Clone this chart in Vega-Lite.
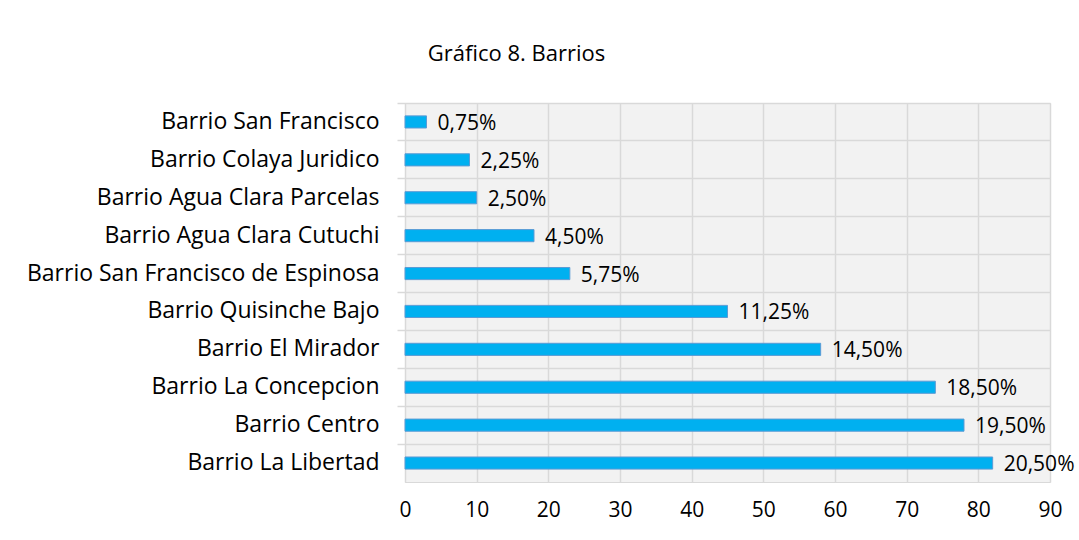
{
  "$schema": "https://vega.github.io/schema/vega-lite/v6.json",
  "autosize": "none",
  "width": 645,
  "height": 379,
  "padding": {"left": 405, "top": 103, "right": 29, "bottom": 58},
  "background": "white",
  "title": {
    "text": "Gráfico 8. Barrios",
    "anchor": "middle",
    "dx": -211,
    "offset": 19,
    "baseline": "alphabetic",
    "font": "Open Sans",
    "fontSize": 22,
    "fontWeight": "normal",
    "color": "#000000"
  },
  "config": {
    "view": {"stroke": "#d9d9d9", "fill": "#f2f2f2"},
    "font": "Open Sans"
  },
  "data": {
    "values": [
      {"barrio": "Barrio San Francisco", "n": 3, "pct": "0,75%"},
      {"barrio": "Barrio Colaya Juridico", "n": 9, "pct": "2,25%"},
      {"barrio": "Barrio Agua Clara Parcelas", "n": 10, "pct": "2,50%"},
      {"barrio": "Barrio Agua Clara Cutuchi", "n": 18, "pct": "4,50%"},
      {"barrio": "Barrio San Francisco de Espinosa", "n": 23, "pct": "5,75%"},
      {"barrio": "Barrio Quisinche Bajo", "n": 45, "pct": "11,25%"},
      {"barrio": "Barrio El Mirador", "n": 58, "pct": "14,50%"},
      {"barrio": "Barrio La Concepcion", "n": 74, "pct": "18,50%"},
      {"barrio": "Barrio Centro", "n": 78, "pct": "19,50%"},
      {"barrio": "Barrio La Libertad", "n": 82, "pct": "20,50%"}
    ]
  },
  "encoding": {
    "y": {
      "field": "barrio",
      "type": "nominal",
      "sort": null,
      "scale": {"paddingInner": 0, "paddingOuter": 0},
      "axis": {
        "title": null,
        "bandPosition": 0,
        "grid": true,
        "gridColor": "#d9d9d9",
        "gridWidth": 1.5,
        "domain": true,
        "domainColor": "#d9d9d9",
        "ticks": true,
        "tickColor": "#d9d9d9",
        "tickSize": 8,
        "tickWidth": 1.5,
        "labelPadding": 18,
        "labelLimit": 0,
        "labelFontSize": 23,
        "labelColor": "#000000",
        "labelFont": "Open Sans"
      }
    },
    "x": {
      "field": "n",
      "type": "quantitative",
      "scale": {"domain": [0, 90], "nice": false},
      "axis": {
        "title": null,
        "values": [0, 10, 20, 30, 40, 50, 60, 70, 80, 90],
        "grid": true,
        "gridColor": "#d9d9d9",
        "gridWidth": 1.5,
        "domain": false,
        "ticks": false,
        "labelFlush": false,
        "labelPadding": 17,
        "labelFontSize": 21,
        "labelColor": "#000000",
        "labelFont": "Open Sans"
      }
    }
  },
  "layer": [
    {
      "mark": {"type": "bar", "height": {"band": 0.32}, "fill": "#00b0f0", "stroke": "#5b9bd5", "strokeWidth": 1}
    },
    {
      "mark": {"type": "text", "align": "left", "baseline": "middle", "dx": 11, "dy": 2, "fontSize": 21, "font": "Open Sans", "color": "#000000"},
      "encoding": {"text": {"field": "pct"}}
    }
  ]
}
